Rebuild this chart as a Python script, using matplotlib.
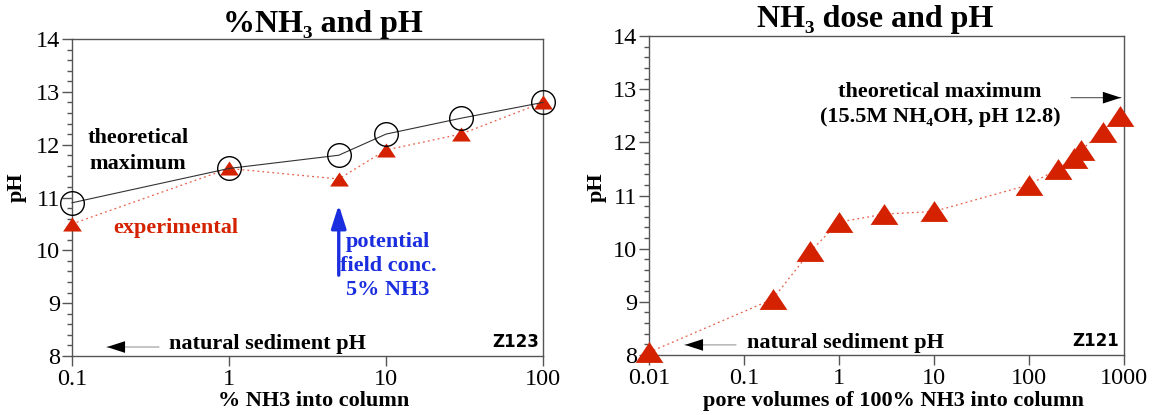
import matplotlib
matplotlib.use('Agg')
import matplotlib.pyplot as plt
from matplotlib.ticker import FixedLocator, FixedFormatter, MultipleLocator, NullLocator

# ---------------- data ----------------
pct_nh3 = [0.1, 1, 5, 10, 30, 100]
ph_theoretical = [10.9, 11.55, 11.8, 12.2, 12.5, 12.8]
ph_experimental = [10.5, 11.55, 11.35, 11.9, 12.2, 12.8]

pore_volumes = [0.01, 0.2, 0.5, 1, 3, 10, 100, 200, 300, 350, 600, 900]
ph_dose = [8.05, 9.05, 9.95, 10.5, 10.65, 10.7, 11.2, 11.5, 11.7, 11.85, 12.2, 12.5]

left_xticks = [0.1, 1, 10, 100]
left_xticklabels = ['0.1', '1', '10', '100']
right_xticks = [0.01, 0.1, 1, 10, 100, 1000]
right_xticklabels = ['0.01', '0.1', '1', '10', '100', '1000']
yticks = [8, 9, 10, 11, 12, 13, 14]
yticklabels = ['8', '9', '10', '11', '12', '13', '14']

# ---------------- style ----------------
SERIF = ['Liberation Serif', 'DejaVu Serif']
plt.rcParams['font.family'] = SERIF
RED = '#d42200'
RED_LINE = '#e8604a'
BLUE = '#1a2ee0'
SPINE = '#555555'
TRI = [(-1, -0.75), (1, -0.75), (0, 0.75), (-1, -0.75)]

W, H = 1161, 415
fig = plt.figure(figsize=(W / 100, H / 100), dpi=100)


def px_axes(x0, y0, x1, y1):
    return fig.add_axes([x0 / W, 1 - y1 / H, (x1 - x0) / W, (y1 - y0) / H])


def style_axes(ax, xticks, xlabels, xlim):
    ax.set_xscale('log')
    ax.set_xlim(*xlim)
    ax.set_ylim(8, 14)
    ax.xaxis.set_major_locator(FixedLocator(xticks))
    ax.xaxis.set_major_formatter(FixedFormatter(xlabels))
    ax.xaxis.set_minor_locator(NullLocator())
    ax.yaxis.set_major_locator(FixedLocator(yticks))
    ax.yaxis.set_major_formatter(FixedFormatter(yticklabels))
    ax.yaxis.set_minor_locator(MultipleLocator(0.2))
    ax.tick_params(axis='both', which='major', direction='out', length=7,
                   width=1, color=SPINE, labelsize=17.5)
    ax.tick_params(axis='y', which='major', pad=1.5)
    ax.tick_params(axis='x', which='major', pad=2)
    ax.tick_params(axis='y', which='minor', direction='out', length=3.5,
                   width=1, color=SPINE)
    for s in ax.spines.values():
        s.set_color(SPINE)
        s.set_linewidth(1)


def arrow(ax, x0, y0, x1, y1, color='#999999', head='black'):
    ax.annotate('', xy=(x1, y1), xytext=(x0, y0),
                arrowprops=dict(arrowstyle='-', color=color, lw=0.8,
                                shrinkA=0, shrinkB=0))
    ax.annotate('', xy=(x1, y1), xytext=(x1 * (x0 / x1) ** 0.35, y1),
                arrowprops=dict(arrowstyle='-|>,head_length=1.3,head_width=0.42',
                                mutation_scale=10, color=head, lw=0.01,
                                shrinkA=0, shrinkB=0))


# ---------------- left panel ----------------
ax1 = px_axes(72, 39, 543, 356)
style_axes(ax1, left_xticks, left_xticklabels, (0.1, 100))
ax1.plot(pct_nh3, ph_experimental, color=RED_LINE, lw=0.9,
         linestyle=(0, (1.5, 2.5)), zorder=2, clip_on=False)
ax1.plot(pct_nh3, ph_experimental, linestyle='none', marker=TRI, ms=13.5,
         mfc=RED, mec=RED, mew=0, zorder=3, clip_on=False)
ax1.plot(pct_nh3, ph_theoretical, color='#333333', lw=0.8, zorder=4,
         marker='o', ms=17, mfc='none', mec='black', mew=1.0, clip_on=False)

ax1.text(0.263, 12.03, 'theoretical', ha='center', va='baseline',
         fontsize=16, fontweight='bold')
ax1.text(0.263, 11.54, 'maximum', ha='center', va='baseline',
         fontsize=16, fontweight='bold')
ax1.text(0.459, 10.33, 'experimental', ha='center', va='baseline',
         fontsize=16, fontweight='bold', color=RED)
ax1.annotate('', xy=(5, 10.86), xytext=(5, 9.53),
             arrowprops=dict(arrowstyle='-|>,head_length=1.4,head_width=0.45',
                             color=BLUE, lw=2.4, shrinkA=0, shrinkB=0))
ax1.text(10.3, 10.06, 'potential', ha='center', va='baseline',
         fontsize=16, fontweight='bold', color=BLUE)
ax1.text(10.3, 9.61, 'field conc.', ha='center', va='baseline',
         fontsize=16, fontweight='bold', color=BLUE)
ax1.text(10.3, 9.15, '5% NH3', ha='center', va='baseline',
         fontsize=16, fontweight='bold', color=BLUE)
ax1.text(1.75, 8.13, 'natural sediment pH', ha='center', va='baseline',
         fontsize=16, fontweight='bold')
arrow(ax1, 0.358, 8.17, 0.167, 8.17)
ax1.text(94.4, 8.175, 'Z123', ha='right', va='baseline', fontsize=12,
         fontweight='bold', family='DejaVu Sans')

# ---------------- right panel ----------------
ax2 = px_axes(649, 36, 1124, 355)
style_axes(ax2, right_xticks, right_xticklabels, (0.01, 1000))
ax2.plot(pore_volumes, ph_dose, color=RED_LINE, lw=0.9,
         linestyle=(0, (1.5, 2.5)), zorder=2, clip_on=False)
ax2.plot(pore_volumes, ph_dose, linestyle='none', marker=TRI, ms=20,
         mfc=RED, mec=RED, mew=0, zorder=3, clip_on=False)

ax2.text(11.6, 12.85, 'theoretical maximum', ha='center', va='baseline',
         fontsize=16, fontweight='bold')
ax2.text(11.6, 12.38, '(15.5M NH\u2084OH, pH 12.8)', ha='center', va='baseline',
         fontsize=16, fontweight='bold')
arrow(ax2, 277, 12.84, 929, 12.84, color='#555555')
ax2.text(1.16, 8.13, 'natural sediment pH', ha='center', va='baseline',
         fontsize=16, fontweight='bold')
arrow(ax2, 0.0824, 8.19, 0.0239, 8.19)
ax2.text(885, 8.175, 'Z121', ha='right', va='baseline', fontsize=12,
         fontweight='bold', family='DejaVu Sans')

# ---------------- titles & labels ----------------
fig.text(323 / W, 1 - 32 / H, '%NH\u2083 and pH', ha='center', va='baseline',
         fontsize=23, fontweight='bold')
fig.text(875 / W, 1 - 27 / H, 'NH\u2083 dose and pH', ha='center', va='baseline',
         fontsize=23, fontweight='bold')
fig.text(17 / W, 1 - 187 / H, 'pH', rotation=90, ha='center', va='center',
         fontsize=16, fontweight='bold')
fig.text(597 / W, 1 - 187 / H, 'pH', rotation=90, ha='center', va='center',
         fontsize=16, fontweight='bold')
fig.text(314 / W, 1 - 406 / H, '% NH3 into column', ha='center', va='baseline',
         fontsize=16, fontweight='bold')
fig.text(893 / W, 1 - 406 / H, 'pore volumes of 100% NH3 into column',
         ha='center', va='baseline', fontsize=16, fontweight='bold')

fig.savefig('out.png', dpi=100)
